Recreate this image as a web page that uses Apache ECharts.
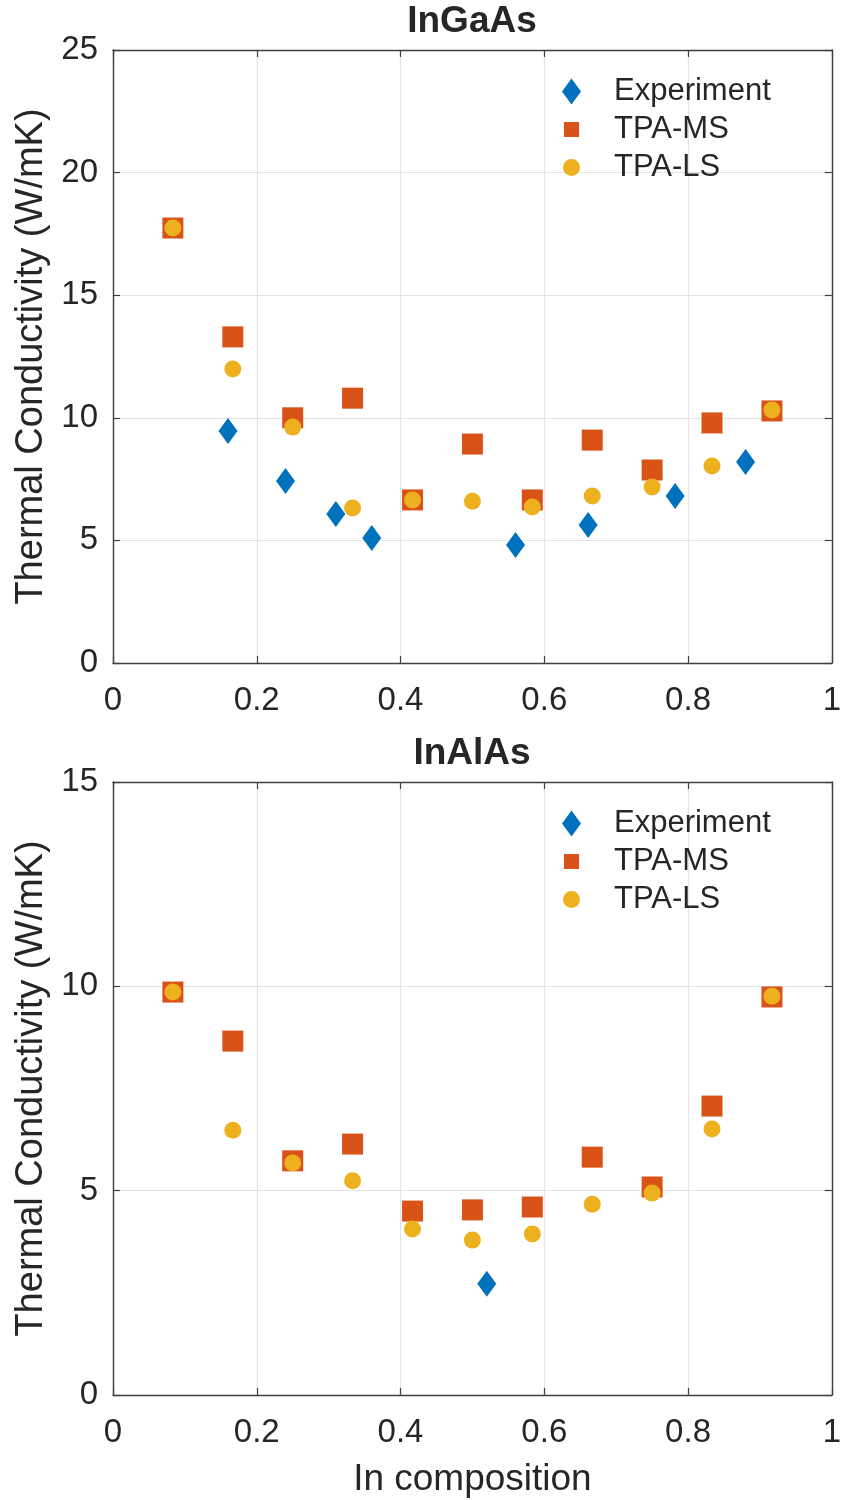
<!DOCTYPE html>
<html>
<head>
<meta charset="utf-8">
<script src="https://cdn.jsdelivr.net/npm/echarts@6/dist/echarts.min.js"></script>
<style>html,body{margin:0;padding:0;background:#fff}#c{width:844px;height:1500px}</style>
</head>
<body>
<div id="c"></div>
<script>
// In composition values of the TPA calculations
const tpaX = [0.0833, 0.1667, 0.25, 0.3333, 0.4167, 0.5, 0.5833, 0.6667, 0.75, 0.8333, 0.9167];

// InGaAs
const gaExpX = [0.16, 0.24, 0.31, 0.36, 0.56, 0.661, 0.782, 0.88];
const gaExpY = [9.46, 7.42, 6.08, 5.1, 4.81, 5.63, 6.81, 8.2];
const gaMS = [17.74, 13.3, 10.0, 10.8, 6.65, 8.93, 6.65, 9.09, 7.87, 9.79, 10.28];
const gaLS = [17.74, 11.99, 9.62, 6.32, 6.65, 6.6, 6.36, 6.81, 7.18, 8.03, 10.32];

// InAlAs
const alExpX = [0.52];
const alExpY = [2.72];
const alMS = [9.86, 8.66, 5.73, 6.14, 4.5, 4.53, 4.6, 5.82, 5.09, 7.07, 9.74];
const alLS = [9.86, 6.48, 5.68, 5.24, 4.06, 3.79, 3.94, 4.67, 4.94, 6.51, 9.76];

const titles = ['InGaAs', 'InAlAs'];
const seriesNames = ['Experiment', 'TPA-MS', 'TPA-LS'];

const pair = (xs, ys) => xs.map((x, i) => [x, ys[i]]);
const FONT = '"Liberation Sans", Arial, Helvetica, sans-serif';
const AX = '#262626';
const colors = ['#0072BD', '#D95319', '#EDB120'];

const grids = [
  {left: 113, top: 50, width: 720, height: 613},
  {left: 113, top: 782, width: 720, height: 613}
];

function xAx(gi, pos, show) {
  return {
    gridIndex: gi, type: 'value', min: 0, max: 1, interval: 0.2, position: pos,
    axisLine: {show: true, onZero: false, lineStyle: {color: '#404040', width: 1.4}},
    axisTick: {show: true, inside: true, length: 7, lineStyle: {color: '#404040', width: 1.2}},
    axisLabel: {show: show, color: AX, fontSize: 33, fontFamily: FONT, margin: 21,
      formatter: v => String(Math.round(v * 10) / 10)},
    splitLine: {show: pos === 'bottom', lineStyle: {color: '#e3e3e3', width: 1.2}},
    name: (show && gi === 1) ? 'In composition' : '',
    nameLocation: 'middle', nameGap: 66,
    nameTextStyle: {color: AX, fontSize: 37, fontFamily: FONT}
  };
}
function yAx(gi, pos, show, max) {
  return {
    gridIndex: gi, type: 'value', min: 0, max: max, interval: 5, position: pos,
    axisLine: {show: true, onZero: false, lineStyle: {color: '#404040', width: 1.4}},
    axisTick: {show: true, inside: true, length: 7, lineStyle: {color: '#404040', width: 1.2}},
    axisLabel: {show: show, color: AX, fontSize: 33, fontFamily: FONT, margin: 15},
    splitLine: {show: pos === 'left', lineStyle: {color: '#e3e3e3', width: 1.2}},
    name: show ? 'Thermal Conductivity (W/mK)' : '',
    nameLocation: 'middle', nameGap: 58,
    nameTextStyle: {color: AX, fontSize: 38, fontFamily: FONT}
  };
}

const xAxis = [xAx(0, 'bottom', true), xAx(1, 'bottom', true), xAx(0, 'top', false), xAx(1, 'top', false)];
const yAxis = [yAx(0, 'left', true, 25), yAx(1, 'left', true, 15), yAx(0, 'right', false, 25), yAx(1, 'right', false, 15)];

function mk(name, gi, data) {
  const k = seriesNames.indexOf(name);
  const sym = ['diamond', 'rect', 'circle'][k];
  const size = [[19, 26], 21, 17][k];
  return {
    name: name, type: 'scatter', xAxisIndex: gi, yAxisIndex: gi, data: data,
    symbol: sym, symbolSize: size, z: 2 + k,
    itemStyle: {color: colors[k], opacity: 1}
  };
}

const series = [
  mk('Experiment', 0, pair(gaExpX, gaExpY)),
  mk('TPA-MS', 0, pair(tpaX, gaMS)),
  mk('TPA-LS', 0, pair(tpaX, gaLS)),
  mk('Experiment', 1, pair(alExpX, alExpY)),
  mk('TPA-MS', 1, pair(tpaX, alMS)),
  mk('TPA-LS', 1, pair(tpaX, alLS))
];

function legend(top) {
  return {
    left: 557, top: top, orient: 'vertical', itemGap: 7,
    itemWidth: 19, itemHeight: 26,
    selectedMode: false,
    data: [
      {name: 'Experiment', icon: 'path://M0,-13L9.5,0L0,13L-9.5,0Z'},
      {name: 'TPA-MS', icon: 'path://M-9.5,-13M9.5,13M-7.5,-7.5L7.5,-7.5L7.5,7.5L-7.5,7.5Z'},
      {name: 'TPA-LS', icon: 'path://M-9.5,-13M9.5,13M-8.5,0A8.5,8.5,0,1,1,8.5,0A8.5,8.5,0,1,1,-8.5,0Z'}
    ],
    textStyle: {color: AX, fontSize: 31, fontFamily: FONT, padding: [0, 0, 0, 28]}
  };
}

const chart = echarts.init(document.getElementById('c'), null, {renderer: 'canvas'});
chart.setOption({
  animation: false,
  backgroundColor: '#fff',
  title: titles.map((t, i) => ({
    text: t, left: 472, top: i === 0 ? 3 : 735, textAlign: 'center', padding: 0,
    textStyle: {color: AX, fontSize: 37, fontWeight: 'bold', fontFamily: FONT}
  })),
  legend: [legend(71), legend(803)],
  grid: grids,
  xAxis: xAxis,
  yAxis: yAxis,
  series: series
});
</script>
</body>
</html>
